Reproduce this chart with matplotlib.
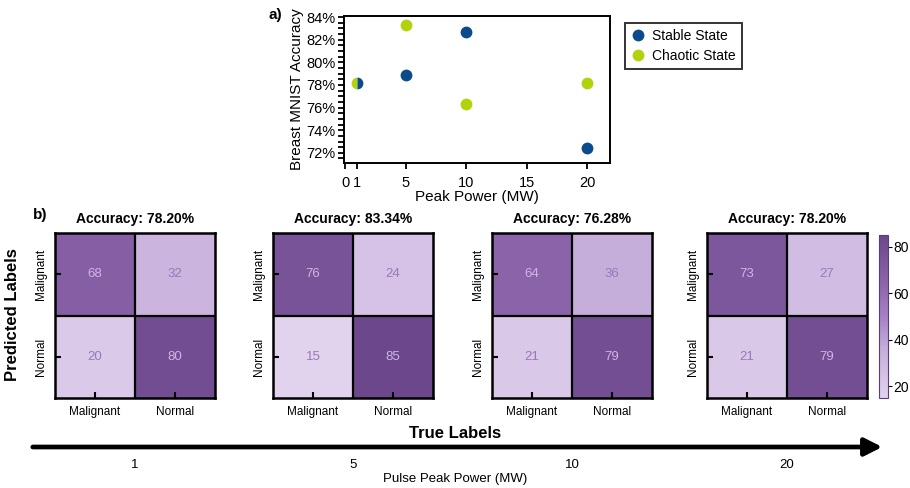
import numpy as np
import matplotlib
matplotlib.use('Agg')
from matplotlib import pyplot as plt
from matplotlib.colors import LinearSegmentedColormap, Normalize
from matplotlib.ticker import PercentFormatter, MultipleLocator

plt.rcParams['font.family'] = ['Liberation Sans', 'DejaVu Sans']

# peak power sweep (MW)
power = [1, 5, 10, 20]
stable_acc = [78.2, 78.85, 82.7, 72.45]
chaotic_acc = [78.2, 83.34, 76.28, 78.2]

# confusion matrices (chaotic state), rows = predicted, cols = true
class_names = ['Malignant', 'Normal']
conf_mats = [
    [[68, 32], [20, 80]],
    [[76, 24], [15, 85]],
    [[64, 36], [21, 79]],
    [[73, 27], [21, 79]],
]

BLUE = '#0b4a8b'
GREEN = '#b4d20c'
cmap = LinearSegmentedColormap.from_list(
    'lav', [(0.0, '#e1d2ee'), (0.3, '#c6aedb'), (0.5, '#a680c6'), (0.7, '#8c64aa'), (1.0, '#6c478b')])

W, H = 910, 488
fig = plt.figure(figsize=(W / 100, H / 100), dpi=100)

def box(l, t, r, b):
    # pixel box -> figure fraction
    return [l / W, 1 - b / H, (r - l) / W, (b - t) / H]

# ---- a) scatter ----
MS = 8.5
ax = fig.add_axes(box(344, 16, 610, 163))
for x, s, c in zip(power, stable_acc, chaotic_acc):
    if s == c:
        # same value for both states -> half/half marker
        ax.plot(x, c, 'o', ms=MS, color=GREEN, fillstyle='left', mew=0, zorder=3)
        ax.plot(x, s, 'o', ms=MS, color=BLUE, fillstyle='right', mew=0, zorder=3)
    else:
        ax.plot(x, s, 'o', ms=MS, color=BLUE, mew=0, zorder=3)
        ax.plot(x, c, 'o', ms=MS, color=GREEN, mew=0, zorder=3)
h1, = ax.plot([], [], 'o', ms=MS, color=BLUE, mew=0, label='Stable State')
h2, = ax.plot([], [], 'o', ms=MS, color=GREEN, mew=0, label='Chaotic State')
ax.set_xlim(-0.1, 21.9)
ax.set_ylim(71.1, 84.1)
ax.set_xticks([0, 1, 5, 10, 15, 20])
ax.yaxis.set_major_locator(MultipleLocator(2))
ax.yaxis.set_minor_locator(MultipleLocator(0.5))
ax.yaxis.set_major_formatter(PercentFormatter(100, decimals=0))
ax.tick_params(axis='both', which='both', direction='out', length=4, width=1.3, labelsize=10.5, pad=2)
ax.tick_params(axis='x', pad=5)
for sp in ax.spines.values():
    sp.set_linewidth(1.4)
ax.set_xlabel('Peak Power (MW)', fontsize=11, labelpad=0)
ax.set_ylabel('Breast MNIST Accuracy', fontsize=11, labelpad=2)
leg = ax.legend(handles=[h1, h2], loc='upper left', bbox_to_anchor=(1.03, 1.0), fontsize=10,
                frameon=True, fancybox=False, edgecolor='black', handletextpad=0.5,
                borderpad=0.45, handlelength=1.0, labelspacing=0.4)
leg.get_frame().set_linewidth(1.4)
fig.text(275 / W, 1 - 15 / H, 'a)', fontsize=11, fontweight='bold', ha='center', va='center')

# ---- b) confusion matrices ----
allv = np.array(conf_mats)
norm = Normalize(vmin=allv.min(), vmax=allv.max())
lefts = [55, 273, 492, 707]
for i, (cm, acc) in enumerate(zip(conf_mats, chaotic_acc)):
    cm = np.array(cm)
    a = fig.add_axes(box(lefts[i], 233, lefts[i] + 160, 398))
    im = a.imshow(cm, cmap=cmap, norm=norm, aspect='auto')
    for r in range(2):
        for c in range(2):
            v = cm[r, c]
            col = '#cdb6e4' if norm(v) > 0.5 else '#9a78bb'
            a.text(c, r, str(v), ha='center', va='center', fontsize=9.5, color=col)
    a.axhline(0.5, color='black', lw=1.6)
    a.axvline(0.5, color='black', lw=1.6)
    a.set_xticks([0, 1])
    a.set_yticks([0, 1])
    a.set_xticklabels(class_names, family=['Liberation Sans Narrow', 'Liberation Sans'], fontsize=8.5)
    a.set_yticklabels(class_names, family=['Liberation Sans Narrow', 'Liberation Sans'], fontsize=8.5,
                      rotation=90, va='center')
    a.tick_params(direction='in', length=4, width=1.5, pad=6)
    for sp in a.spines.values():
        sp.set_linewidth(1.8)
    a.set_title(f'Accuracy: {acc:.2f}%', fontsize=10, fontweight='bold', pad=7)

cax = fig.add_axes(box(879, 235, 888, 398))
cb = fig.colorbar(im, cax=cax, ticks=[20, 40, 60, 80])
cb.outline.set_linewidth(0.8)
cb.outline.set_edgecolor('#5a3f75')
cb.ax.tick_params(labelsize=10, length=3, width=0.8, pad=1)

fig.text(40 / W, 1 - 215 / H, 'b)', fontsize=11, fontweight='bold', ha='center', va='center')
fig.text(13 / W, 1 - 315 / H, 'Predicted Labels', fontsize=12, fontweight='bold', rotation=90,
         ha='center', va='center')
fig.text(455 / W, 1 - 433 / H, 'True Labels', fontsize=12, fontweight='bold', ha='center', va='center')

# power arrow along the bottom
fig.add_artist(matplotlib.patches.FancyArrowPatch((30 / W, 1 - 447 / H), (885 / W, 1 - 447 / H),
               transform=fig.transFigure, arrowstyle='-|>,head_length=0.75,head_width=0.38',
               mutation_scale=14, lw=3.4, color='black'))
for i, p in enumerate(power):
    fig.text((lefts[i] + 80) / W, 1 - 465 / H, str(p), fontsize=9.5, ha='center', va='center')
fig.text(455 / W, 1 - 479 / H, 'Pulse Peak Power (MW)', fontsize=9.5, ha='center', va='center')

fig.savefig('out.png', dpi=100)
